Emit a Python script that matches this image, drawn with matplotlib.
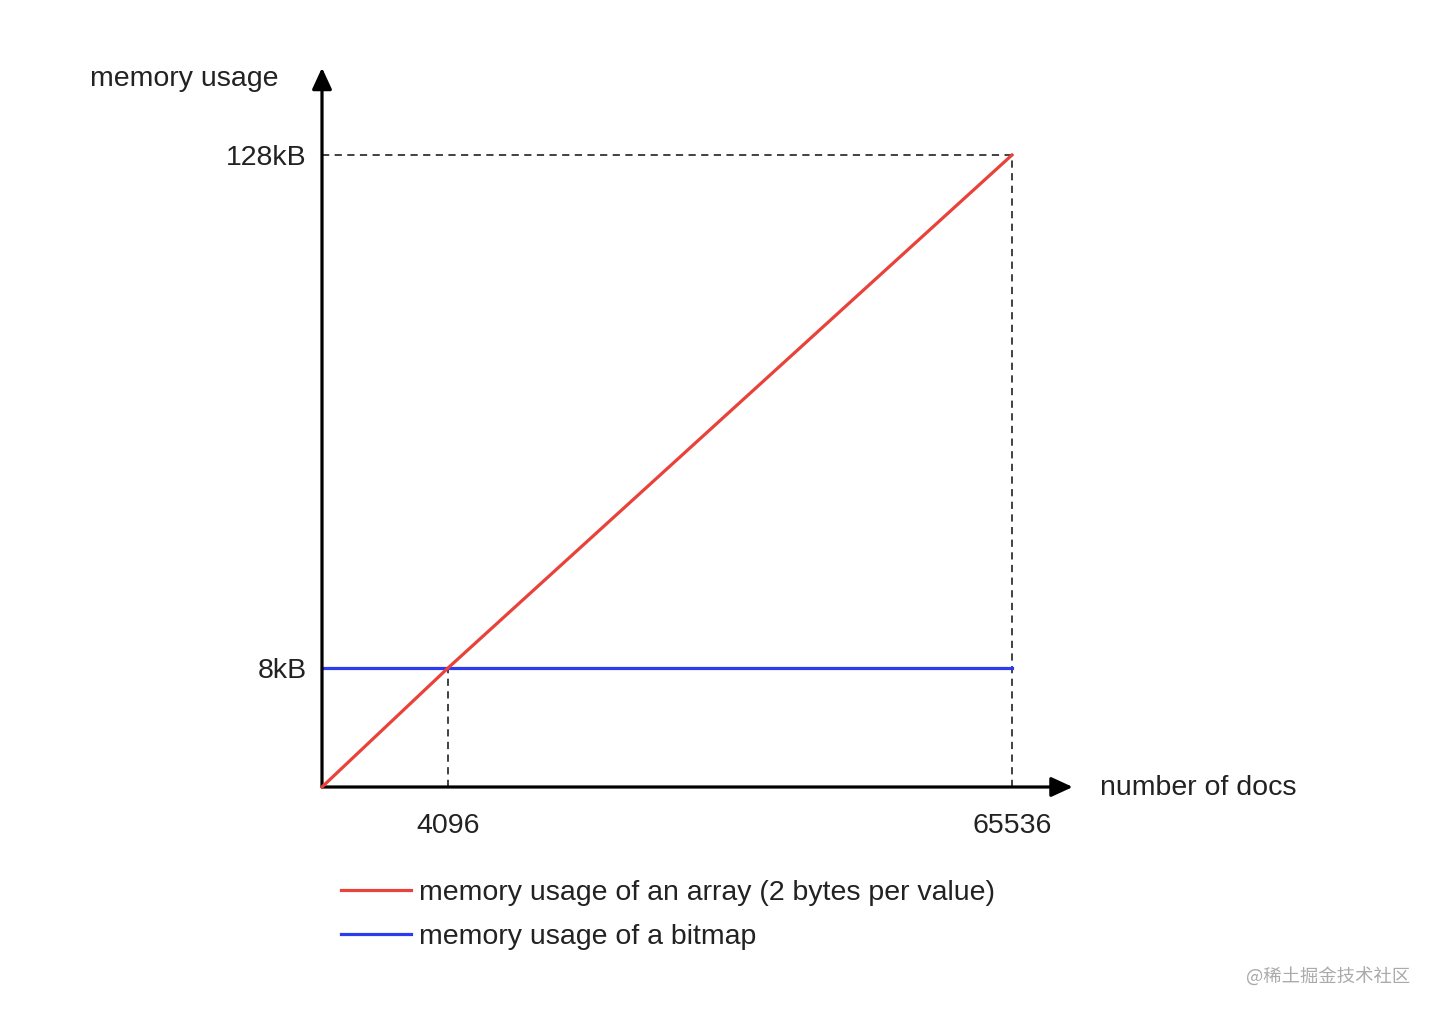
"""Memoria de un array vs un bitmap segun numero de docs (esquema)."""
import numpy as np
import matplotlib
matplotlib.use("Agg")
import matplotlib.pyplot as plt
from matplotlib.lines import Line2D

plt.rcParams["font.family"] = ["Liberation Sans", "DejaVu Sans"]

# datos
docs_array = [0, 4096, 65536]
mem_array_kb = [0, 8, 128]
docs_bitmap = [0, 65536]
mem_bitmap_kb = [8, 8]
x_ticks = [4096, 65536]
x_labels = ["4096", "65536"]
y_ticks = [8, 128]
y_labels = ["8kB", "128kB"]
lbl_array = "memory usage of an array (2 bytes per value)"
lbl_bitmap = "memory usage of a bitmap"

# escala esquematica (no lineal) como en el dibujo original
X_KNOTS, X_POS = [0, 4096, 65536], [0, 126, 690]
Y_KNOTS, Y_POS = [0, 8, 128], [0, 119, 632]

RED = "#e8423a"
BLUE = "#2b3cf0"
TXT = "#222222"
FS = 20.5


def fwd(knots, pos):
    return lambda v: np.interp(v, knots, pos)


def inv(knots, pos):
    return lambda p: np.interp(p, pos, knots)


W, H = 1436, 1014
fig = plt.figure(figsize=(W / 100, H / 100), dpi=100)
ax = fig.add_axes([322 / W, 1 - 787 / H, 690 / W, 632 / H])
ax.set_xscale("function", functions=(fwd(X_KNOTS, X_POS), inv(X_KNOTS, X_POS)))
ax.set_yscale("function", functions=(fwd(Y_KNOTS, Y_POS), inv(Y_KNOTS, Y_POS)))
ax.set_xlim(0, 65536)
ax.set_ylim(0, 128)

# guias punteadas
dash = dict(color="#333333", lw=1.3, ls=(0, (4, 3)), clip_on=False, zorder=1)
ax.plot([0, 65536], [128, 128], **dash)
ax.plot([65536, 65536], [0, 128], **dash)
ax.plot([4096, 4096], [0, 8], **dash)

ax.plot(docs_bitmap, mem_bitmap_kb, color=BLUE, lw=2.3, clip_on=False, zorder=3)
ax.plot(docs_array, mem_array_kb, color=RED, lw=2.3, clip_on=False, zorder=4)

for s in ax.spines.values():
    s.set_visible(False)
flecha = dict(arrowstyle="-|>,head_length=1.3,head_width=0.6",
              color="black", lw=2.3, shrinkA=0, shrinkB=0)
ax.annotate("", xy=(1.088, 0), xytext=(0, 0), xycoords="axes fraction",
            arrowprops=flecha)
ax.annotate("", xy=(0, 1.138), xytext=(0, 0), xycoords="axes fraction",
            arrowprops=flecha)

ax.set_xticks(x_ticks, x_labels)
ax.set_yticks(y_ticks, y_labels)
ax.tick_params(axis="x", length=0, pad=19, labelsize=FS, labelcolor=TXT)
ax.tick_params(axis="y", length=0, pad=11, labelsize=FS, labelcolor=TXT)
ax.minorticks_off()

fig.text(90 / W, 1 - 79 / H, "memory usage", fontsize=FS, color=TXT,
         ha="left", va="center")
fig.text(1100 / W, 1 - 788 / H, "number of docs", fontsize=FS, color=TXT,
         ha="left", va="center")

handles = [Line2D([], [], color=RED, lw=2.3), Line2D([], [], color=BLUE, lw=2.3)]
fig.legend(handles, [lbl_array, lbl_bitmap], loc="upper left",
           bbox_to_anchor=(327 / W, 1 - 866 / H), frameon=False, fontsize=FS,
           handlelength=2.45, handletextpad=0.28, labelspacing=0.63,
           borderpad=0, labelcolor=TXT)

fig.text(1410 / W, 1 - 977 / H, "@稀土掘金技术社区", fontsize=13.2, color="#aaaaaa",
         ha="right", va="center", family=["Noto Sans CJK SC", "DejaVu Sans"])

fig.savefig("out.png", dpi=100)
